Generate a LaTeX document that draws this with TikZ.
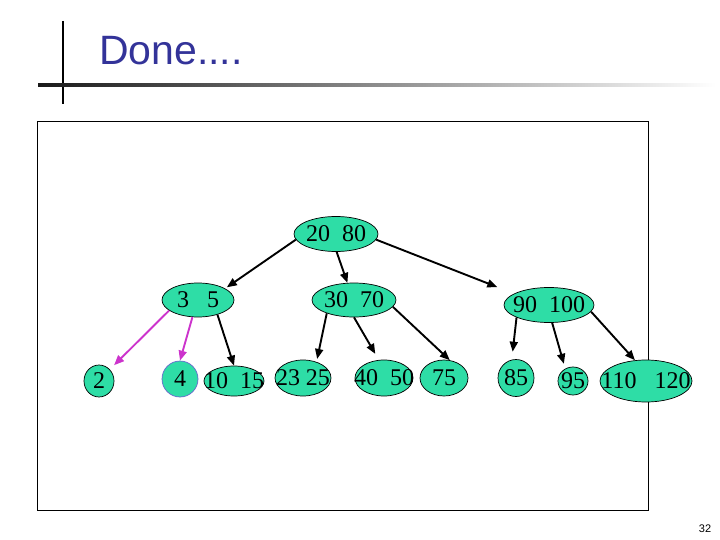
\documentclass[tikz,border=0pt]{standalone}
\usepackage{fontspec}
\setmainfont{Liberation Serif}
\newfontfamily\slidefont{Liberation Sans}
\usetikzlibrary{shapes.geometric, arrows.meta}
\definecolor{keyfill}{HTML}{2EDDA6}
\definecolor{titleblue}{HTML}{333399}
\definecolor{moveline}{HTML}{CC33CC}
\definecolor{ringline}{HTML}{6666CC}
\newcommand{\keytext}[1]{\makebox[0pt]{#1}}

\begin{document}
\begin{tikzpicture}[
  x=1pt, y=-1pt,
  key/.style={ellipse, draw=black, fill=keyfill, inner sep=0pt,
    line width=0.7pt, font=\fontsize{24}{24}\selectfont},
  arrow/.style={-{Triangle[length=10pt, width=8pt]}, line width=1.9pt},
  movearrow/.style={arrow, color=moveline},
]
\useasboundingbox (0,0) rectangle (720,540);

% Slide title
\draw[line width=2.2pt] (63,21) -- (63,104);
\shade[left color=black!90, right color=white] (38,83.2) rectangle (716,86.6);
\node[anchor=base west, inner sep=0pt, text=titleblue,
  font=\slidefont\fontsize{41}{41}\selectfont] (title) at (99,65) {Done....};

% Frame
\draw[line width=0.8pt] (37,121) rectangle (648,510);

% Root
\node[key, minimum width=84, minimum height=35] (root) at (336,234) {\keytext{20\ \ 80}};

% Row 2
\node[key, minimum width=72, minimum height=34] (n35) at (198,300) {\keytext{3\ \ \ 5}};
\node[key, minimum width=84, minimum height=34] (n3070) at (354,300) {\keytext{30\ \ 70}};
\node[key, minimum width=90, minimum height=35] (n90100) at (549,305) {\keytext{90\ \ 100}};

% Row 3 -- leaves
\node[key, minimum width=30, minimum height=32] (n2) at (99,381) {\keytext{2}};
\node[key, circle, draw=ringline, minimum size=36] (n4) at (180,379) {\keytext{4}};
\node[key, minimum width=60, minimum height=30] (n1015) at (234,381) {\keytext{10\ \ 15}};
\node[key, minimum width=56, minimum height=36] (n2325) at (303,378) {\keytext{23 25}};
\node[key, minimum width=58, minimum height=36] (n4050) at (384,378) {\keytext{40\ \ 50}};
\node[key, minimum width=48, minimum height=36] (n75) at (444,378) {\keytext{75}};
\node[key, minimum width=36, minimum height=37] (n85) at (516,378) {\keytext{85}};
\node[key, minimum width=30, minimum height=28] (n95) at (573,381) {\keytext{95}};
\node[key, minimum width=92, minimum height=42] (n110120) at (646,381) {\keytext{110\ \ \ 120}};

\draw[arrow, shorten >=2pt] (root.188) -- (n35.23);
\draw[arrow] (root.272) -- (n3070.111);
\draw[arrow, shorten >=18pt] (root.352) -- (n90100.162);

\draw[movearrow, shorten >=6pt] (n35.200) -- (n2.47);
\draw[movearrow] (n35.252) -- (n4.north);
\draw[arrow] (n35.323) -- (n1015.north);

\draw[arrow, shorten >=3pt] (n3070.206) -- (n2325.50);
\draw[arrow, shorten >=7pt] (n3070.270) -- (n4050.106);
\draw[arrow] (n3070.350) -- (n75.72);

\draw[arrow, shorten >=8pt] (n90100.201) -- (n85.103);
\draw[arrow, shorten >=5pt] (n90100.280) -- (n95.122);
\draw[arrow] (n90100.351) -- (n110120.118);

% Page number
\node[font=\slidefont\fontsize{11}{11}\selectfont] (pagenum) at (705,529) {32};
\end{tikzpicture}
\end{document}
